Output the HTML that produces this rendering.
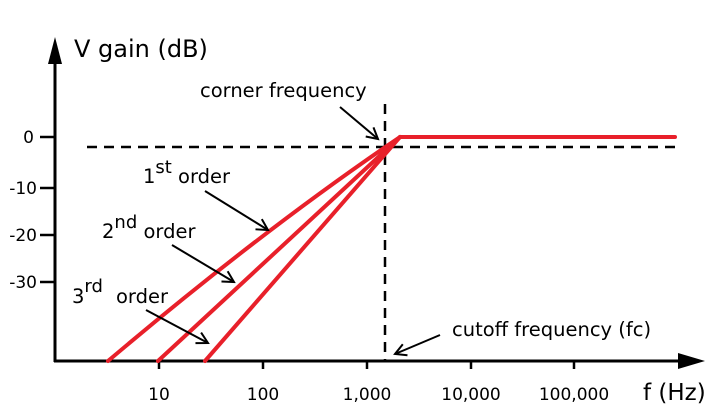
<!DOCTYPE html>
<html><head><style>body{margin:0;background:#fff}svg{display:block}</style></head><body>
<svg width="725" height="417" viewBox="0 0 725 417" font-family="DejaVu Sans, Liberation Sans, sans-serif" fill="#000">
<defs><marker id="a" markerWidth="14" markerHeight="14" refX="12" refY="7" orient="auto" markerUnits="userSpaceOnUse"><path d="M1,1 L12,7 L1,13" fill="none" stroke="#000" stroke-width="2"/></marker></defs>
<line x1="55" y1="60" x2="55" y2="362" stroke="#000" stroke-width="3"/>
<polygon points="55,37 48,64 62,64"/>
<line x1="54" y1="361" x2="682" y2="361" stroke="#000" stroke-width="3"/>
<polygon points="705,361 678,353 678,369"/>
<g stroke="#000" stroke-width="2.5">
<line x1="40" y1="137" x2="55" y2="137"/><line x1="40" y1="188" x2="55" y2="188"/><line x1="40" y1="235" x2="55" y2="235"/><line x1="40" y1="282" x2="55" y2="282"/>
<line x1="159" y1="361" x2="159" y2="369"/><line x1="263" y1="361" x2="263" y2="369"/><line x1="367" y1="361" x2="367" y2="369"/><line x1="471" y1="361" x2="471" y2="369"/><line x1="574" y1="361" x2="574" y2="369"/>
</g>
<g stroke="#000" stroke-width="2.5" stroke-dasharray="10,7" fill="none">
<line x1="87" y1="147" x2="675" y2="147"/><line x1="385" y1="104" x2="385" y2="361"/>
</g>
<g stroke="#e8202a" stroke-width="4" fill="none" stroke-linecap="round">
<line x1="400" y1="137" x2="675" y2="137"/>
<path d="M400,137 Q264,229 108,361"/>
<line x1="400" y1="137" x2="158" y2="361"/>
<line x1="400" y1="137" x2="205" y2="361"/>
</g>
<g stroke="#000" stroke-width="2" marker-end="url(#a)">
<line x1="340" y1="107" x2="378" y2="139"/>
<line x1="205" y1="191" x2="268" y2="230"/>
<line x1="172" y1="245" x2="234" y2="282"/>
<line x1="146" y1="310" x2="208" y2="343"/>
<line x1="440" y1="335" x2="395" y2="354"/>
</g>
<g font-size="17">
<text x="34" y="143" text-anchor="end">0</text>
<text x="37" y="194" text-anchor="end">-10</text>
<text x="37" y="241" text-anchor="end">-20</text>
<text x="37" y="288" text-anchor="end">-30</text>
<text x="159" y="400" text-anchor="middle">10</text>
<text x="263" y="400" text-anchor="middle">100</text>
<text x="367" y="400" text-anchor="middle">1,000</text>
<text x="471" y="400" text-anchor="middle">10,000</text>
<text x="574" y="400" text-anchor="middle">100,000</text>
</g>
<text x="74" y="57" font-size="24">V gain (dB)</text>
<text x="200" y="97" font-size="19.5">corner frequency</text>
<text x="143" y="183" font-size="19.5">1<tspan dy="-10" font-size="18">st</tspan><tspan dy="10"> order</tspan></text>
<text x="102" y="238" font-size="19.5">2<tspan dy="-10" font-size="18">nd</tspan><tspan dy="10"> order</tspan></text>
<text x="72" y="303" font-size="19.5">3<tspan dy="-11" font-size="18">rd</tspan></text>
<text x="116" y="303" font-size="19.5">order</text>
<text x="452" y="336" font-size="19.5">cutoff frequency (fc)</text>
<text x="643" y="400" font-size="23">f (Hz)</text>
</svg>
</body></html>
